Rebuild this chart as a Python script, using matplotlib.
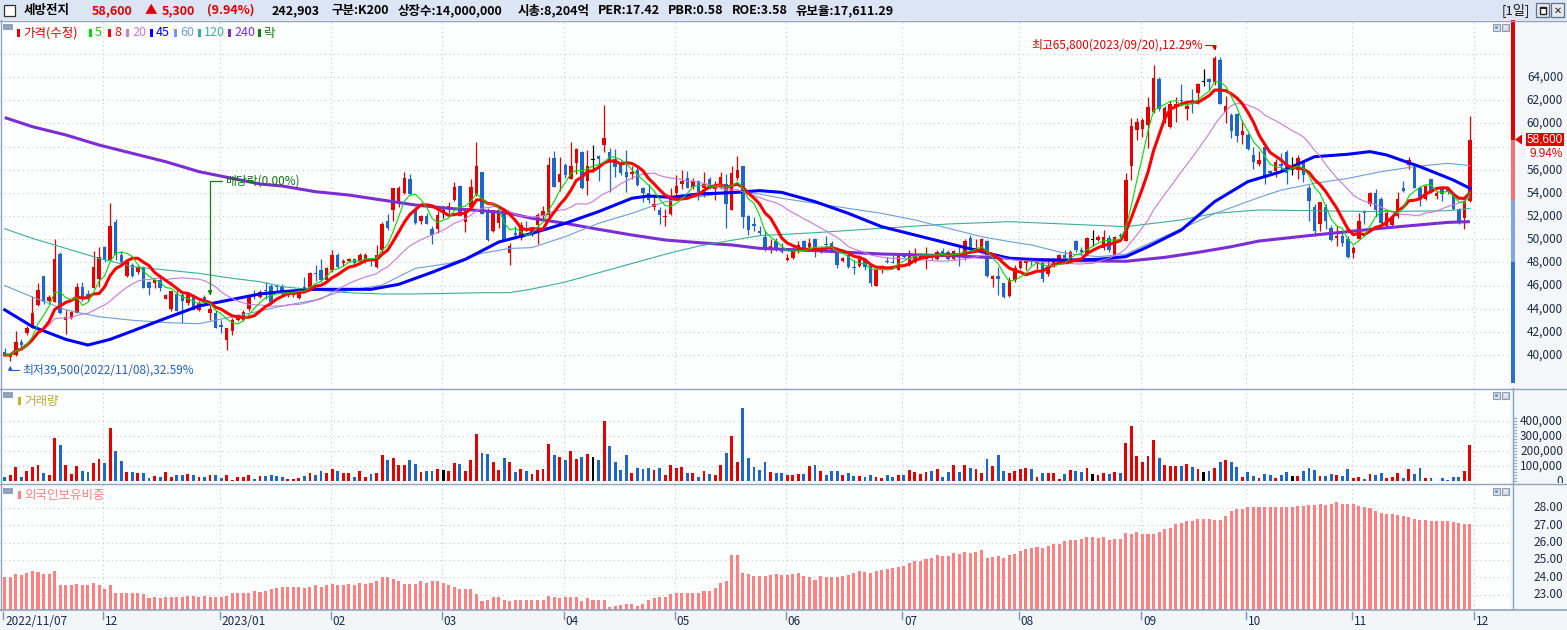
import numpy as np
import pandas as pd
import matplotlib
matplotlib.use('Agg')
import matplotlib.pyplot as plt
from matplotlib.transforms import Affine2D
from matplotlib.patches import Rectangle, Polygon
from matplotlib.lines import Line2D

plt.rcParams['font.family'] = ['Noto Sans CJK KR', 'DejaVu Sans']

# ---------------- data ----------------
opens = [40300,39800,40000,41100,41900,42300,44300,46800,44700,44600,48700,43000,43200,43600,45900,45300,45800,46600,49300,48200,
         51500,48600,46800,47800,47200,47600,46300,46200,46500,44800,44000,45300,45200,44500,45200,43900,45000,43600,43600,42600,
         41300,42100,43000,43000,44000,45300,45000,45600,46000,46000,46000,45200,45200,44900,45900,45800,47100,47300,46500,47300,
         48600,47900,48100,48300,48100,48200,48300,47600,49100,51600,52500,53100,54000,55200,52600,51600,52000,50900,50900,52400,
         52700,53400,54600,51500,52800,53900,55800,52500,50700,51400,52500,48800,50500,50100,50900,50500,51200,52000,52100,57000,
         54900,56400,55200,56600,57500,55000,56800,57200,58100,57500,56900,56400,55800,55600,56000,54400,54000,52800,52500,51900,
         52200,54000,54800,55300,54500,55000,54400,55200,54300,54500,54800,52500,55300,56300,52000,51300,50700,50200,49200,49800,
         49000,48200,48400,49000,49800,49300,50000,48900,49600,49700,49100,48100,48600,47600,47700,48300,47700,46000,47400,48100,
         48000,47300,48700,47800,48000,48400,48300,48600,48300,49000,48900,48300,48700,48400,50100,49000,49000,49800,46600,46800,
         46200,45100,46500,47500,47900,48200,47900,48000,47000,47900,48100,48600,48300,49800,49100,48800,49900,49900,49200,50100,
         48600,50400,49800,56300,59400,59500,59900,61000,63800,60300,59700,61500,62000,61200,62000,62600,63600,63800,63600,65500,
         61000,60700,60800,59000,59000,57300,56500,58000,55900,55900,56500,57500,56000,56000,56600,54400,52800,51300,52800,51000,
         50100,50300,50000,48800,50000,52400,53000,54000,53500,51100,51200,52000,54400,56400,56300,54400,53500,55200,53700,54300,
         54400,53800,52600,51800,53300]
highs = [40600,40100,42100,41400,42500,45100,46200,46800,45200,50000,48900,43900,43800,46200,46300,45600,49000,49300,49400,53100,
         51700,49000,48100,47900,47700,47700,46400,46500,46700,45300,45500,45800,45400,45400,45300,44700,45200,44300,43900,43000,
         42300,43200,43500,43900,45100,45600,45600,46300,46100,46100,46100,45600,45600,45500,46700,47200,47800,48300,47600,49100,
         48800,48300,48400,48400,48800,48800,48400,49500,51500,52200,54400,54600,55800,55600,52800,52100,52300,51100,52400,52900,
         53200,54900,54700,52700,55200,58400,55800,52700,52500,52500,52500,49700,51100,51500,51600,51000,52300,52900,57100,57600,
         57100,56600,58400,57900,57600,57700,58100,57300,61600,57900,57800,56800,57700,56300,56300,54500,54800,53900,52800,52600,
         54400,55500,56000,55900,55300,55100,55800,55400,55000,55800,55600,56300,57200,56300,52100,51900,51100,50800,50000,50100,
         49700,48700,49300,49800,49900,50100,50100,49300,50300,49800,49300,48500,48800,48200,48600,48400,47800,47400,47800,48500,
         48600,48800,48800,49100,49200,48800,49300,48700,49100,49200,49100,49100,49300,50000,50400,50000,50100,49900,46900,47600,
         46200,46700,47800,48200,48300,48300,48300,48100,48400,48400,48700,49100,49100,49900,49300,50200,50800,50400,50800,50400,
         50300,50500,55700,60500,60500,60500,62300,65000,64000,61500,61900,62300,63400,61900,63000,63500,64700,63900,65800,65700,
         62400,60900,60900,60300,59200,58000,57600,58300,56000,56900,57400,57700,57100,57300,56800,54700,53000,53200,53000,51200,
         51100,50500,50300,49400,52300,52500,54100,54300,53600,52500,51900,54100,55000,57100,56600,54600,54700,55200,54200,54500,
         54400,53900,52700,53600,60600]
lows = [39900,39500,39900,40600,41700,42300,44200,44400,44600,44600,43500,41800,43100,43600,44700,44700,45800,45900,48000,48200,
        48200,47700,46700,46700,47000,45800,45200,45800,45500,44800,43800,43800,42800,44300,43900,43800,44500,43000,42300,41900,
        40400,41700,42900,42900,43800,44800,44900,44800,44400,45300,45100,45000,45000,44800,45700,45700,46400,46300,46300,47200,
        47500,47700,48000,47700,47900,47900,47700,47500,48700,50800,51600,52800,53900,53800,51300,51300,51300,49600,50500,51800,
        52300,53300,52000,50600,52800,53700,52200,49800,50600,51000,49800,47800,50200,49900,50700,50300,49600,51700,51900,54500,
        54200,55300,55200,55600,54300,53800,55800,55000,57500,54100,55400,55500,54100,55200,54600,53200,53100,52500,51300,51100,
        52100,53600,54300,54400,54300,53400,53600,54300,53400,54300,51000,52500,55100,51000,50400,50700,50400,49000,48800,49000,
        48800,48100,48300,48800,49000,49000,48500,48800,49100,49000,47500,48000,47500,47000,47600,47300,46000,46000,47100,47900,
        47900,47300,48400,47700,47900,48300,47400,48200,48200,48700,48200,48200,47700,48200,48900,48900,48900,46700,45900,45200,
        44900,45000,46300,47400,47300,47800,47400,46300,46800,47600,47900,48400,48200,48900,48600,48600,49400,49800,49100,48900,
        48600,50000,49800,55100,58600,58800,57900,60900,61100,60000,59600,60100,61500,60300,60900,61700,63200,62900,63300,61700,
        60000,58700,58400,58200,57700,56100,56300,54800,55500,55400,55900,54800,55500,55200,54900,51600,50300,50700,50900,49800,
        49400,49400,48400,48400,50000,51300,52900,51900,51200,51000,51100,51800,54100,56100,54400,52900,53400,54000,53500,53300,
        53900,52500,51300,50900,53200]
closes = [40000,40000,41100,40900,42300,43600,45600,44600,45000,48300,43600,43300,43700,45900,44900,44900,47600,48500,48200,51100,
          48600,48000,48000,46800,47600,45800,45800,46500,45800,45200,45500,43800,44700,45200,43900,44500,44600,44000,42300,42400,
          42300,43000,43400,43700,45000,45100,45400,45500,44600,45900,45300,45500,45500,45400,45800,47100,47000,46500,47500,48600,
          47600,48100,48300,47900,48600,48600,48100,48600,51300,51000,54400,54400,55300,53900,51400,52000,51300,50400,52100,52400,
          52900,54500,52000,52400,54500,56300,52200,49900,52500,52500,49800,49400,50400,51200,50700,50900,52100,52400,56400,54500,
          55600,55500,56300,57800,54400,56300,56800,56900,58700,56800,56200,55700,55400,55800,54700,54000,53400,53000,52100,52000,
          53700,54600,55000,54400,55000,54100,54800,54500,54500,55400,53000,55700,56000,51900,50800,51100,50500,49100,49400,49100,
          48900,48400,49100,49500,49100,49700,49100,49200,49500,49100,47800,48400,47600,47500,48300,47600,46200,47300,47600,48000,
          47900,48600,48500,48800,48700,48600,48600,48400,48900,48800,48300,49000,48600,49800,49100,49200,50000,46800,46800,46600,
          45000,46500,47500,48100,48100,48000,48100,46600,47600,48300,48600,48400,48900,49100,48900,50100,49900,50200,50200,49100,
          50200,50300,55100,59800,60100,60300,61400,63900,61200,61300,61700,61700,61900,61500,61700,63400,63600,63600,65600,61700,
          61500,59300,58900,59300,57800,56700,56800,55400,55700,56700,56300,55700,56000,57000,55500,53300,50700,53200,51600,49900,
          50300,49700,48500,49200,51600,52300,54000,52500,51400,52300,51800,53500,54200,56800,54400,53500,54600,54100,54000,53900,
          54100,52600,51500,53300,58600]
volumes = [29000,42000,96000,29000,69000,96000,109000,56000,42000,289000,242000,109000,49000,102000,69000,62000,122000,149000,122000,356000,
           202000,136000,62000,62000,56000,56000,22000,36000,29000,62000,29000,42000,42000,49000,42000,29000,29000,42000,42000,22000,
           42000,9000,29000,29000,42000,16000,36000,36000,42000,36000,29000,16000,16000,22000,36000,56000,42000,69000,56000,82000,
           69000,56000,56000,29000,69000,29000,49000,56000,176000,142000,156000,109000,109000,142000,116000,62000,69000,69000,82000,76000,
           69000,122000,116000,69000,142000,316000,189000,182000,129000,76000,156000,129000,62000,82000,69000,49000,76000,82000,249000,176000,
           162000,142000,202000,149000,162000,182000,162000,142000,402000,236000,129000,76000,176000,56000,89000,82000,89000,76000,89000,42000,
           109000,89000,96000,56000,56000,29000,69000,49000,42000,109000,189000,302000,129000,489000,156000,96000,76000,129000,62000,56000,
           56000,42000,42000,49000,49000,102000,109000,69000,42000,69000,69000,42000,56000,36000,36000,29000,42000,29000,22000,42000,
           29000,42000,42000,76000,62000,49000,62000,69000,82000,29000,62000,109000,62000,109000,89000,82000,56000,149000,102000,176000,
           69000,56000,69000,79000,89000,82000,29000,56000,56000,56000,16000,49000,76000,69000,62000,89000,49000,42000,56000,49000,
           62000,56000,256000,369000,169000,129000,169000,276000,156000,109000,102000,102000,102000,116000,96000,82000,62000,69000,89000,129000,
           142000,129000,96000,29000,62000,36000,22000,49000,42000,22000,42000,62000,36000,36000,69000,89000,76000,36000,36000,49000,
           42000,36000,82000,22000,29000,16000,49000,42000,56000,22000,29000,56000,22000,82000,49000,89000,22000,22000,5000,22000,
           9000,29000,29000,69000,242903]
foreign_pct = [24.04,24.04,24.21,24.16,24.27,24.39,24.33,24.21,24.21,24.39,23.58,23.53,23.58,23.64,23.53,23.58,23.70,23.53,23.35,23.58,
               23.07,23.07,23.07,23.07,23.12,23.01,22.78,22.84,22.78,22.84,22.84,22.84,22.89,22.95,22.95,22.89,22.95,22.89,22.89,22.89,
               22.95,23.07,23.07,23.12,23.12,23.24,23.18,23.24,23.35,23.41,23.47,23.47,23.47,23.47,23.41,23.47,23.58,23.47,23.53,23.64,
               23.53,23.58,23.64,23.58,23.70,23.64,23.70,23.76,24.00,24.00,23.93,23.76,23.64,23.64,23.64,23.76,23.70,23.81,23.76,23.70,
               23.58,23.47,23.30,23.30,23.30,23.01,22.61,22.67,22.84,22.84,22.67,22.61,22.67,22.72,22.67,22.67,22.72,22.72,22.95,22.84,
               22.78,22.89,22.84,22.84,22.61,22.78,22.72,22.72,22.67,22.26,22.32,22.38,22.49,22.49,22.32,22.49,22.67,22.78,22.89,22.89,
               23.01,23.07,23.12,23.07,23.12,23.07,23.24,23.24,23.41,23.70,23.81,25.30,25.30,24.27,24.21,24.10,24.10,24.10,24.16,24.21,
               24.16,24.16,24.21,24.27,24.10,24.04,23.87,24.10,24.04,24.04,24.04,24.10,24.16,24.27,24.39,24.33,24.27,24.39,24.44,24.50,
               24.56,24.61,24.67,24.85,24.96,24.96,25.07,25.13,25.30,25.24,25.24,25.42,25.36,25.48,25.42,25.48,25.59,25.13,25.19,25.24,
               25.13,25.30,25.36,25.53,25.65,25.71,25.76,25.71,25.82,25.93,25.93,26.11,26.16,26.16,26.22,26.34,26.34,26.28,26.34,26.16,
               26.22,26.22,26.57,26.51,26.62,26.51,26.51,26.51,26.62,26.80,26.85,27.08,27.14,27.25,27.25,27.37,27.37,27.37,27.31,27.31,
               27.54,27.83,27.94,27.94,28.06,28.06,28.06,28.06,28.06,28.06,28.06,28.06,28.06,28.11,28.11,28.17,28.17,28.23,28.17,28.23,
               28.34,28.23,28.23,28.23,28.11,28.06,28.00,27.83,27.71,27.66,27.66,27.60,27.54,27.48,27.37,27.31,27.31,27.25,27.25,27.25,
               27.25,27.19,27.14,27.08,27.08]

# long moving averages at selected candles
ma45_idx = [0,5,11,15,19,23,29,35,41,46,50,56,62,66,71,77,83,89,95,101,107,113,116,120,125,131,136,140,146,152,
            158,164,170,176,181,185,192,197,202,206,212,218,224,230,236,242,246,249,255,261,264]
ma45_val = [43900,42450,41350,40860,41350,42070,43170,44230,44800,45270,45470,45670,45670,45670,46100,47140,48260,49750,50500,51370,
            52380,53530,53730,53610,53900,54020,54190,54040,53240,52230,51080,50360,49640,48920,48350,48200,48200,48260,48490,49350,
            50790,53240,54970,55830,57120,57330,57560,57270,56260,55110,54390]
ma60_idx = [0,5,11,17,23,29,35,41,46,50,56,60,68,74,80,86,91,95,101,107,113,119,125,131,136,140,146,152,158,164,
            170,176,181,185,191,197,202,206,212,218,226,230,236,242,248,254,260,264]
ma60_val = [46000,45000,43900,43300,43000,42800,42700,43300,43800,44230,44750,45400,46040,47480,47900,48780,49200,49270,50220,51370,
            52230,53240,53670,54020,53900,53530,53100,52660,52230,51660,50940,50220,49790,49500,48780,48490,48700,49600,50900,52200,
            53600,54240,54820,55250,55830,56260,56550,56350]
ma120_idx = [0,5,11,17,23,29,35,41,46,50,56,62,68,74,80,86,91,95,101,107,113,119,125,131,136,146,158,170,181,191,
             202,206,212,218,226,236,248,260,264]
ma120_val = [50900,50070,49210,48350,47630,47340,47050,46620,46330,45900,45610,45380,45270,45270,45320,45380,45380,45700,46300,47100,
             47900,48700,49400,49900,50300,50560,50940,51310,51510,51310,51080,51310,51660,52230,52520,52460,52380,52460,52660]
ma240_idx = [0,5,11,17,23,29,35,41,46,50,56,62,68,74,80,86,91,95,101,107,113,119,125,131,136,146,158,170,181,191,
             197,202,209,215,221,226,236,248,260,264]
ma240_val = [60500,59710,59000,58130,57410,56690,55830,55250,54760,54590,54100,53810,53380,52950,52660,52460,52230,51800,51370,50850,
             50360,49930,49700,49500,49210,49010,48720,48580,48350,48150,48120,48090,48430,48860,49350,49840,50360,50940,51450,51510]

month_start_idx = [0, 18, 39, 59, 79, 101, 121, 141, 162, 183, 205, 224, 243, 265]
month_labels = ['2022/11/07', '12', '2023/01', '02', '03', '04', '05', '06', '07', '08', '09', '10', '11', '12']

price_ticks = list(range(40000, 64001, 2000))
price_grid = list(range(40000, 66001, 2000))
volume_ticks = [0, 100000, 200000, 300000, 400000]
foreign_ticks = [23, 24, 25, 26, 27, 28]
axis_band_levels = [53400, 48000]   # colour changes of the right price bar

legend_labels = ['가격(수정)', '5', '8', '20', '45', '60', '120', '240', '락']
legend_colors = ['#e60000', '#00dd00', '#ff0000', '#cc77dd', '#0000ff', '#6d9fd6', '#38b09a', '#7a2ed4', '#108010']

dividend_idx = 37
dividend_text = '배당락(0.00%)'
high_date = '2023/09/20'
low_date = '2022/11/08'
stock_name = '세방전지'
header_static = ['구분:K200', '상장수:14,000,000', '시총:8,204억', 'PER:17.42', 'PBR:0.58', 'ROE:3.58', '유보율:17,611.29']

# ---------------- layout ----------------
W, H = 1567, 630
PLOT_R = 1510
X0, DX = 4.7, 5.55
RED, BLUE = '#e60000', '#1f66cc'
FRAME = '#8fa3bf'
AXTXT = '#1c2a48'

fig = plt.figure(figsize=(W / 100, H / 100), dpi=100)
fig.patch.set_facecolor('#f4f7f9')
PX = Affine2D().scale(1.0 / W, -1.0 / H).translate(0, 1) + fig.transFigure


def panel(top, bottom, ylim):
    ax = fig.add_axes([0, 1 - bottom / H, PLOT_R / W, (bottom - top) / H])
    ax.set_facecolor('#fdfefe')
    ax.set_xlim((0 - X0) / DX, (PLOT_R - X0) / DX)
    ax.set_ylim(*ylim)
    axr = fig.add_axes([PLOT_R / W, 1 - bottom / H, (W - PLOT_R) / W, (bottom - top) / H])
    axr.set_facecolor('#f4f7f9')
    axr.set_xlim(PLOT_R, W)
    axr.set_ylim(*ylim)
    for a in (ax, axr):
        for s in a.spines.values():
            s.set_visible(False)
        a.set_xticks([])
        a.set_yticks([])
    return ax, axr


ppx = 2000 / 23.165                       # won per pixel
price_lim = (40000 - (388 - 355) * ppx, 40000 + (355 - 20) * ppx)
vpx = 100000 / 15.0
vol_lim = (-(483 - 481.3) * vpx, (481.3 - 388) * vpx)
fpx = 1 / 17.333
for_lim = (28 - (610 - 508) * fpx, 28 + (508 - 483) * fpx)

ax_p, axr_p = panel(20, 388, price_lim)
ax_v, axr_v = panel(388, 483, vol_lim)
ax_f, axr_f = panel(483, 610, for_lim)

o = np.array(opens, float)
h = np.array(highs, float)
l = np.array(lows, float)
c = np.array(closes, float)
x = np.arange(len(c))
cols = np.where(c > o, RED, np.where(c < o, BLUE, '#000000')).tolist()

grid_kw = dict(color='#c3cad3', lw=0.8, ls=(0, (1, 3)), zorder=0)
for ax in (ax_p, ax_v, ax_f):
    for m in month_start_idx[1:]:
        ax.axvline(m - 0.27, **grid_kw)
for v in price_grid:
    ax_p.axhline(v, **grid_kw)
for v in volume_ticks[1:]:
    ax_v.axhline(v, **grid_kw)
for v in foreign_ticks:
    ax_f.axhline(v, **grid_kw)

# candles
ax_p.vlines(x, l, h, colors=cols, lw=0.9, zorder=2)
ax_p.bar(x, np.maximum(np.abs(c - o), ppx), bottom=np.minimum(o, c), width=0.62,
         color=cols, lw=0, zorder=3)

# moving averages
s = pd.Series(c)
ma5 = s.rolling(5, min_periods=1).mean()
ma8 = s.rolling(8, min_periods=1).mean()
ma20 = s.rolling(20, min_periods=1).mean()
ax_p.plot(ma240_idx, ma240_val, color='#7a2ed4', lw=2.2, zorder=4, solid_capstyle='butt')
ax_p.plot(ma120_idx, ma120_val, color='#38b09a', lw=0.8, zorder=4)
ax_p.plot(ma60_idx, ma60_val, color='#6d9fd6', lw=0.8, zorder=4)
ax_p.plot(ma45_idx, ma45_val, color='#0000ff', lw=2.2, zorder=5)
ax_p.plot(x, ma20, color='#cc77dd', lw=0.8, zorder=5)
ax_p.plot(x, ma8, color='#ff0000', lw=2.2, zorder=6)
ax_p.plot(x, ma5, color='#00dd00', lw=0.8, zorder=6)

# annotations
close_last = c[-1]
imax = int(np.argmax(h))
imin = int(np.argmin(l))
hi_txt = f'최고{int(h[imax]):,}({high_date}),{(h[imax] - close_last) / close_last * 100:.2f}%'
lo_txt = f'최저{int(l[imin]):,}({low_date}),{(close_last - l[imin]) / close_last * 100:.2f}%'
ax_p.annotate(hi_txt, xy=(imax, h[imax]), xytext=(-12, 11), textcoords='offset pixels',
              ha='right', va='center', color='#e00000', fontsize=8.5, zorder=8,
              arrowprops=dict(arrowstyle='-|>', color='#e00000', lw=0.8, mutation_scale=6,
                              shrinkA=0, shrinkB=4, relpos=(1, 0.5),
                              connectionstyle='angle,angleA=0,angleB=90,rad=0'))
ax_p.annotate(lo_txt, xy=(imin, l[imin]), xytext=(12, -9), textcoords='offset pixels',
              ha='left', va='center', color='#2060c0', fontsize=8.5, zorder=8,
              arrowprops=dict(arrowstyle='-|>', color='#2060c0', lw=0.8, mutation_scale=6,
                              shrinkA=0, shrinkB=3.5, relpos=(0, 0.5),
                              connectionstyle='angle,angleA=0,angleB=90,rad=0'))
ax_p.annotate(dividend_text, xy=(dividend_idx, h[dividend_idx]), xytext=(15, 124),
              textcoords='offset pixels', ha='left', va='center', color='#107010', fontsize=8.5,
              zorder=8,
              arrowprops=dict(arrowstyle='-|>', color='#108010', lw=0.9, mutation_scale=6,
                              shrinkA=0, shrinkB=7, relpos=(0, 0.5),
                              connectionstyle='angle,angleA=0,angleB=90,rad=0'))

# volume & foreign ownership
ax_v.bar(x, volumes, width=0.52, color=cols, lw=0, zorder=3)
fb = for_lim[0]
ax_f.bar(x, np.array(foreign_pct) - fb, bottom=fb, width=0.55, color='#ff8080', lw=0, zorder=3)

# ---------------- right axes ----------------
for v in price_ticks:
    if abs(v - close_last) < 1000:      # hidden behind the current-price marker
        continue
    axr_p.text(1563, v, f'{v:,}', ha='right', va='center', fontsize=8.5, color=AXTXT)
bands = [(close_last, price_lim[1], '#e00000'),
         (axis_band_levels[0], close_last, '#f07272'),
         (axis_band_levels[1], axis_band_levels[0], '#80a8e2'),
         (price_lim[0] + 5 * ppx, axis_band_levels[1], '#2f6fd0')]
for lo_, hi_, col in bands:
    axr_p.add_patch(Rectangle((1511, lo_), 3.5, hi_ - lo_, color=col, lw=0))
axr_p.add_patch(Rectangle((1526, close_last - 6.5 * ppx), 38, 13 * ppx, color='#e00000', lw=0))
axr_p.add_patch(Polygon([(1515, close_last), (1522, close_last + 5 * ppx), (1522, close_last - 5 * ppx)],
                        closed=True, color='#e00000', lw=0))
axr_p.text(1545, close_last, f'{int(close_last):,}', ha='center', va='center', fontsize=8.5,
           color='white', family=['Liberation Sans', 'DejaVu Sans'])
chg_pct = (c[-1] - c[-2]) / c[-2] * 100
axr_p.add_patch(Rectangle((1526, close_last - 20.5 * ppx), 38, 13 * ppx, color='white', lw=0))
axr_p.text(1563, close_last - 14.5 * ppx, f'{chg_pct:.2f}%', ha='right', va='center',
           fontsize=8.5, color='#e00000', family=['Liberation Sans', 'DejaVu Sans'])

axr_v.axvline(1513, color=FRAME, lw=1)
for v in range(0, 420001, 20000):
    axr_v.plot([1513, 1516], [v, v], color=FRAME, lw=0.8)
for v in volume_ticks:
    axr_v.text(1563, v, f'{v:,}', ha='right', va='center', fontsize=8.5, color=AXTXT)
axr_f.axvline(1513, color=FRAME, lw=1)
for v in foreign_ticks:
    axr_f.text(1563, v, f'{v:.2f}', ha='right', va='center', fontsize=8.5, color=AXTXT)

# ---------------- frame, header, legends ----------------
def prect(x0, y0, w, h_, **kw):
    fig.add_artist(Rectangle((x0, y0), w, h_, transform=PX, **kw))


def pline(xs, ys, **kw):
    fig.add_artist(Line2D(xs, ys, transform=PX, **kw))


prect(0, 0, W, 20, facecolor='#dce5f3', edgecolor='none')
pline([0, W], [20.5, 20.5], color=FRAME, lw=1)
pline([0, W], [388.5, 388.5], color=FRAME, lw=1)
pline([0, W], [483.5, 483.5], color=FRAME, lw=1)
pline([0, W], [610, 610], color=FRAME, lw=1.2)
pline([0.5, 0.5], [20, 610], color=FRAME, lw=1)
prect(0, 611, W, 19, facecolor='#f2f6f8', edgecolor='none')

prect(3.5, 4.5, 11, 11, facecolor='white', edgecolor='#303030', lw=0.9)
hdr_red = '#e00000'
chg = int(c[-1] - c[-2])
header_items = [(stock_name, 24, 'black'), (f'{int(c[-1]):,}', 92, hdr_red), ('▲', 145, hdr_red),
                (f'{chg:,}', 162, hdr_red), (f'({chg_pct:.2f}%)', 207, hdr_red),
                (f'{volumes[-1]:,}', 272, 'black')]
hx = [332, 398, 518, 598, 668, 732, 795]
header_items += [(t, xx, 'black') for t, xx in zip(header_static, hx)]
for t, xx, col in header_items:
    fig.text(xx, 10.5, t, transform=PX, ha='left', va='center', fontsize=9, fontweight='bold', color=col)
fig.text(1502, 10.5, '[1일]', transform=PX, ha='left', va='center', fontsize=9.5, color='#101010')
prect(1536, 3, 13, 14, facecolor='#e6eaf0', edgecolor='#60708a', lw=0.9)
prect(1539.5, 6.5, 6, 7, facecolor='white', edgecolor='#202020', lw=1.0)
prect(1539.5, 6.5, 6, 2, facecolor='#202020', edgecolor='none')
prect(1551, 3, 13, 14, facecolor='#e6eaf0', edgecolor='#60708a', lw=0.9)
fig.text(1557.5, 10.5, '✕', transform=PX, ha='center', va='center', fontsize=7, fontweight='bold',
         color='#202020', family=['DejaVu Sans'])

for by in (24, 392, 488):
    prect(3, by, 10, 6, facecolor=FRAME, edgecolor='none')
    prect(1492.5, by, 7, 7, facecolor='#dfe4ea', edgecolor='#8a9ab0', lw=0.8)
    prect(1494.5, by + 2, 3, 3, facecolor='#8a9ab0', edgecolor='none')
    prect(1501.5, by, 7, 7, facecolor='#c9d1dc', edgecolor='#8a9ab0', lw=0.8)
    fig.text(1505, by + 3.6, '×', transform=PX, ha='center', va='center', fontsize=6,
             color='white', family=['DejaVu Sans'])

legend_x = [17, 89, 108, 126, 150, 174, 198, 228, 258]
for lab, col, lx in zip(legend_labels, legend_colors, legend_x):
    prect(lx + 1, 29, 2, 8, facecolor='#b8b8b8', edgecolor='none')
    prect(lx, 28.5, 2.5, 8, facecolor=col, edgecolor='none')
    fig.text(lx + 6, 33, lab, transform=PX, ha='left', va='center', fontsize=9, color=col)

prect(18, 397, 2.5, 8, facecolor='#c8b030', edgecolor='none')
fig.text(24, 401.5, '거래량', transform=PX, ha='left', va='center', fontsize=9, color='#c0a838')
prect(18, 491, 2.5, 8, facecolor='#ff8080', edgecolor='none')
fig.text(24, 495.5, '외국인보유비중', transform=PX, ha='left', va='center', fontsize=9, color='#ff8080')

# x axis ticks and labels
for m, lab in zip(month_start_idx, month_labels):
    tx = X0 + DX * m - 1.5
    pline([tx, tx], [612, 619], color='#7d94b8', lw=1)
    fig.text(tx + 2, 621.5, lab, transform=PX, ha='left', va='center', fontsize=8.5, color='#1a2850')

fig.savefig('out.png', dpi=100, facecolor=fig.get_facecolor())
